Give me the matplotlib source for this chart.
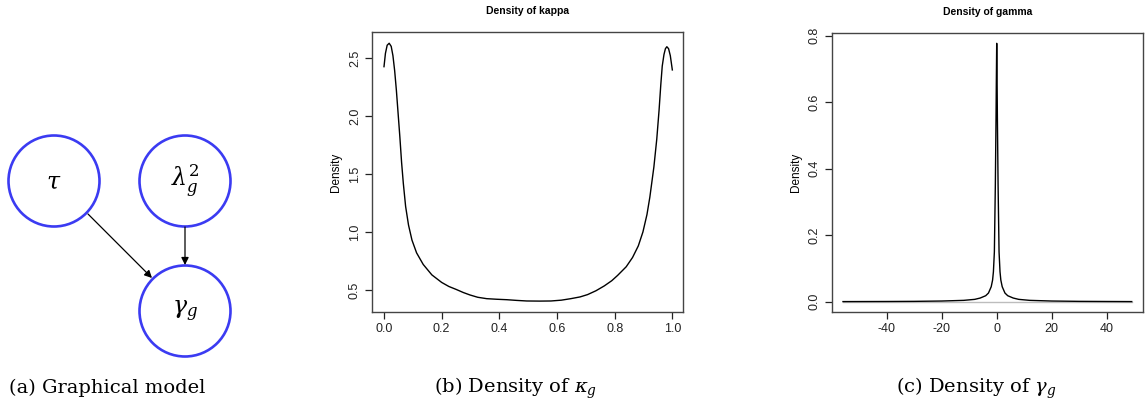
import matplotlib.pyplot as plt
from matplotlib.patches import Circle, FancyArrowPatch

plt.rcParams['mathtext.fontset'] = 'dejavuserif'

# density of kappa
kappa_x = [0.0, 0.005, 0.011, 0.018, 0.025, 0.031, 0.037, 0.043, 0.049, 0.055,
           0.061, 0.067, 0.075, 0.085, 0.097, 0.113, 0.136, 0.166, 0.2, 0.225,
           0.25, 0.275, 0.298, 0.325, 0.356, 0.39, 0.426, 0.46, 0.495, 0.54,
           0.579, 0.615, 0.648, 0.68, 0.706, 0.735, 0.764, 0.79, 0.81, 0.84,
           0.862, 0.882, 0.898, 0.912, 0.922, 0.936, 0.946, 0.954, 0.96, 0.965,
           0.971, 0.976, 0.981, 0.987, 0.993, 1.0]
kappa_y = [2.425, 2.54, 2.61, 2.627, 2.60, 2.52, 2.39, 2.22, 2.02, 1.82,
           1.60, 1.42, 1.22, 1.06, 0.93, 0.82, 0.72, 0.63, 0.565, 0.53,
           0.505, 0.478, 0.457, 0.437, 0.425, 0.42, 0.416, 0.41, 0.405, 0.404,
           0.405, 0.412, 0.425, 0.44, 0.46, 0.493, 0.535, 0.58, 0.625, 0.70,
           0.78, 0.88, 1.0, 1.15, 1.30, 1.56, 1.80, 2.05, 2.27, 2.43,
           2.53, 2.58, 2.597, 2.58, 2.52, 2.397]

# density of gamma
gamma_x = [-55.9, -40, -30, -20, -12, -8, -6, -4, -3, -2, -1.5, -1.2, -0.85, -0.5,
           -0.25, -0.15, 0.0, 0.15, 0.25, 0.5, 0.85, 1.2, 1.5, 2, 3, 4, 6, 8, 12,
           20, 30, 40, 49.1]
gamma_y = [0.0003, 0.0006, 0.001, 0.002, 0.004, 0.007, 0.011, 0.018, 0.026, 0.045,
           0.065, 0.09, 0.15, 0.35, 0.55, 0.65, 0.777, 0.65, 0.55, 0.35, 0.15, 0.09,
           0.065, 0.045, 0.026, 0.018, 0.011, 0.007, 0.004, 0.002, 0.001, 0.0006,
           0.0003]

kappa_ticks = [0.0, 0.2, 0.4, 0.6, 0.8, 1.0]
kappa_yticks = [0.5, 1.0, 1.5, 2.0, 2.5]
gamma_ticks = [-40, -20, 0, 20, 40]
gamma_yticks = [0.0, 0.2, 0.4, 0.6, 0.8]

W, H = 1147, 412
fig = plt.figure(figsize=(W / 100, H / 100), dpi=100)

# (a) graphical model, drawn in pixel coordinates
ax_a = fig.add_axes([0, 0, 260 / W, 1])
ax_a.set_xlim(0, 260)
ax_a.set_ylim(H, 0)
ax_a.axis('off')
nodes = {'tau': (54, 181, r'$\tau$'),
         'lam': (185, 181, r'$\lambda_g^2$'),
         'gam': (185, 311, r'$\gamma_g$')}
for cx, cy, lab in nodes.values():
    ax_a.add_patch(Circle((cx, cy), 45.5, fill=False, ec='#3b3bf2', lw=1.9))
    ax_a.text(cx, cy, lab, ha='center', va='center', fontsize=17)
for a, b in [((88, 214), (152, 278)), ((185, 227), (185, 265))]:
    ax_a.add_patch(FancyArrowPatch(a, b, arrowstyle='-|>', mutation_scale=11,
                                   color='black', lw=0.9, shrinkA=0, shrinkB=0))


def r_axes(rect, title):
    ax = fig.add_axes(rect)
    for s in ax.spines.values():
        s.set_color('#444444')
        s.set_linewidth(1.0)
    ax.tick_params(direction='out', length=5, width=0.9, color='#222222',
                   labelsize=9, labelcolor='#222222', pad=3)
    ax.set_title(title, fontsize=7.5, fontweight='bold', pad=13,
                 family='Liberation Sans')
    ax.set_ylabel('Density', fontsize=8.5, family='Liberation Sans', labelpad=5)
    return ax


# (b) density of kappa
ax_b = r_axes([372 / W, 100 / H, 311 / W, 280 / H], 'Density of kappa')
ax_b.plot(kappa_x, kappa_y, color='black', lw=1.0, solid_joinstyle='round')
ax_b.set_xlim(-0.0416, 1.037)
ax_b.set_ylim(0.310, 2.724)
ax_b.set_xticks(kappa_ticks)
ax_b.set_xticklabels([f'{v:.1f}' for v in kappa_ticks], family='Liberation Sans')
ax_b.set_yticks(kappa_yticks)
ax_b.set_yticklabels([f'{v:.1f}' for v in kappa_yticks], rotation=90,
                     va='center', family='Liberation Sans')

# (c) density of gamma
ax_c = r_axes([832 / W, 100 / H, 311 / W, 279 / H], 'Density of gamma')
ax_c.plot([gamma_x[0], gamma_x[-1]], [0, 0], color='#bdbdbd', lw=1.0)
ax_c.plot(gamma_x, gamma_y, color='black', lw=1.0, solid_joinstyle='round')
ax_c.set_xlim(-59.9, 53.2)
ax_c.set_ylim(-0.031, 0.808)
ax_c.set_xticks(gamma_ticks)
ax_c.set_xticklabels([str(v) for v in gamma_ticks], family='Liberation Sans')
ax_c.set_yticks(gamma_yticks)
ax_c.set_yticklabels([f'{v:.1f}' for v in gamma_yticks], rotation=90,
                     va='center', family='Liberation Sans')

# captions
cap = dict(fontsize=14, family='DejaVu Serif', va='baseline')
fig.text(9 / W, 1 - 393 / H, '(a) Graphical model', ha='left', **cap)
fig.text(516 / W, 1 - 393 / H, r'(b) Density of $\kappa_g$', ha='center', **cap)
fig.text(976 / W, 1 - 393 / H, r'(c) Density of $\gamma_g$', ha='center', **cap)

fig.savefig('out.png', dpi=100)
